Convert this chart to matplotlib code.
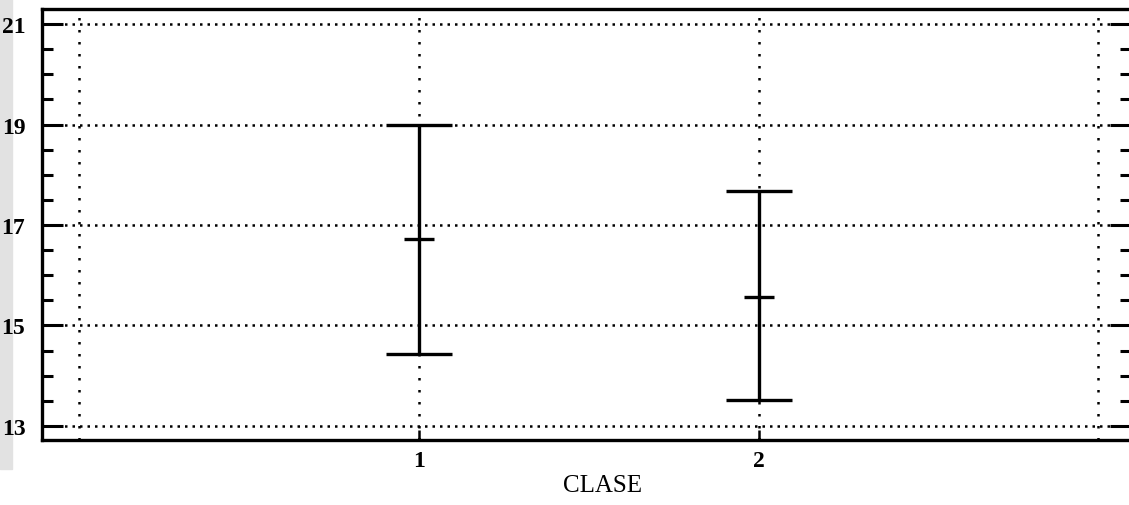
import matplotlib.pyplot as plt
from matplotlib.patches import Rectangle
from matplotlib.ticker import MultipleLocator, FixedLocator

plt.rcParams['font.family'] = ['Liberation Serif', 'DejaVu Serif']

# valores (intervalos por clase)
clase = [1, 2]
media = [16.72, 15.57]
limite_inf = [14.43, 13.52]
limite_sup = [19.0, 17.67]
yticks = [13, 15, 17, 19, 21]
xgrid = [0, 1, 2, 3]

fig = plt.figure(figsize=(11.29, 5.06), dpi=100)
ax = fig.add_axes([42 / 1129, 1 - 441 / 506, 1.002 - 42 / 1129, (441 - 10) / 506])

# sombra del escaneo en el borde izquierdo
fig.patches.append(Rectangle((0, 1 - 470 / 506), 12 / 1129, 470 / 506,
                             transform=fig.transFigure, color='#e2e2e2', zorder=-5))

ax.set_xlim(-0.109, 3.097)
ax.set_ylim(12.72, 21.30)

# rejilla punteada
for y in yticks:
    ax.axhline(y, color='black', lw=1.8, linestyle=(0, (1, 2.0)), zorder=1)
for x in xgrid:
    ax.axvline(x, color='black', lw=1.8, linestyle=(0, (1, 3.8)), zorder=1)

yerr = [[m - lo for m, lo in zip(media, limite_inf)],
        [hi - m for m, hi in zip(media, limite_sup)]]
ax.errorbar(clase, media, yerr=yerr, fmt='_', color='black', ms=21, mew=2.4,
            elinewidth=2.4, capsize=24, capthick=2.4, zorder=3)

ax.yaxis.set_major_locator(FixedLocator(yticks))
ax.yaxis.set_minor_locator(MultipleLocator(0.5))
ax.xaxis.set_major_locator(FixedLocator(clase))
ax.tick_params(axis='y', which='major', direction='in', length=15, width=2.2,
               right=True, pad=12, labelsize=17)
ax.tick_params(axis='y', which='minor', direction='in', length=8, width=2.2, right=True)
ax.tick_params(axis='x', which='major', direction='in', length=7, width=1.8, pad=7,
               labelsize=17)

for lab in ax.get_yticklabels() + ax.get_xticklabels():
    lab.set_fontweight('bold')

for s in ax.spines.values():
    s.set_linewidth(2.4)

fig.text(602 / 1129, 1 - 486 / 506, 'CLASE', ha='center', va='center', fontsize=18)

plt.savefig('out.png', dpi=100)
